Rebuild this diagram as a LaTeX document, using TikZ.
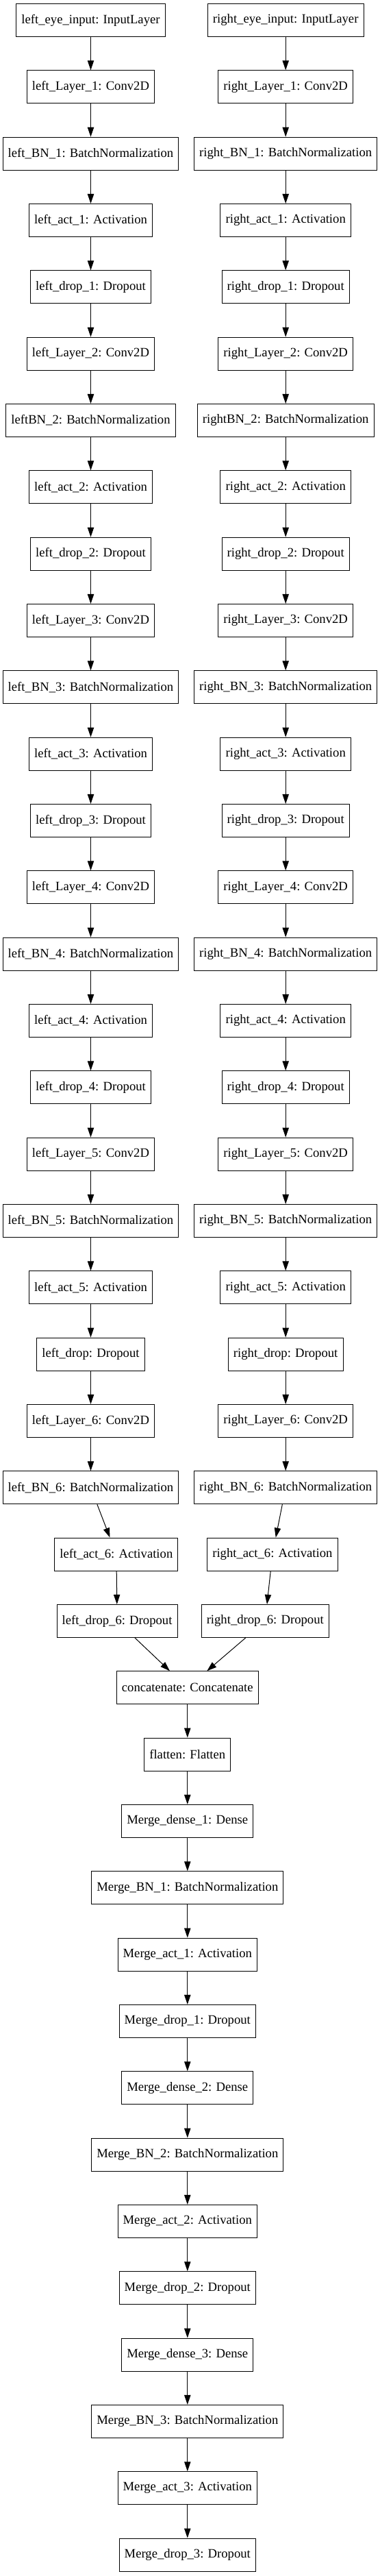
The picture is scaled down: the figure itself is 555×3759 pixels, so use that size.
\documentclass[tikz,border=0pt]{standalone}
\usepackage{fontspec}
\setmainfont{Liberation Serif}
\usetikzlibrary{arrows.meta}
\tikzset{
    layer/.style={draw, line width=0.75pt, minimum height=36pt, inner xsep=5.7pt, inner ysep=0pt,
        font=\fontsize{14pt}{16pt}\selectfont},
    link/.style={-{Triangle[length=10.5pt,width=7pt]}, line width=0.75pt}
}
\begin{document}
\begin{tikzpicture}[x=0.75pt, y=-0.75pt]
    \useasboundingbox (0,0) rectangle (555,3759);
    \def\dy{97.33} % distance between rows
    \def\ytop{29.5} % centre of the first row
    % Two eye branches
    \foreach \s/\x/\side in {l/132.5/left, r/417.2/right} {
        \node[layer] (\s-in) at (\x,\ytop) {\side\_eye\_input: InputLayer};
        \foreach \b in {1,...,6} {
            \pgfmathsetmacro{\yc}{\ytop + (4*\b-3)*\dy}
            \pgfmathsetmacro{\yb}{\ytop + (4*\b-2)*\dy}
            \node[layer] (\s-conv-\b) at (\x,\yc) {\side\_Layer\_\b: Conv2D};
            \ifnum\b=2
                \node[layer] (\s-bn-\b) at (\x,\yb) {\side BN\_\b: BatchNormalization};
            \else
                \node[layer] (\s-bn-\b) at (\x,\yb) {\side\_BN\_\b: BatchNormalization};
            \fi
            \draw[link] (\s-conv-\b) -- (\s-bn-\b);
            \ifnum\b=1
                \draw[link] (\s-in) -- (\s-conv-\b);
            \else
                \pgfmathtruncatemacro{\p}{\b-1}
                \draw[link] (\s-drop-\p) -- (\s-conv-\b);
            \fi
            \ifnum\b<6
                \pgfmathsetmacro{\ya}{\ytop + (4*\b-1)*\dy}
                \pgfmathsetmacro{\yd}{\ytop + (4*\b)*\dy}
                \node[layer] (\s-act-\b) at (\x,\ya) {\side\_act\_\b: Activation};
                \ifnum\b=5
                    \node[layer] (\s-drop-\b) at (\x,\yd) {\side\_drop: Dropout};
                \else
                    \node[layer] (\s-drop-\b) at (\x,\yd) {\side\_drop\_\b: Dropout};
                \fi
                \draw[link] (\s-bn-\b) -- (\s-act-\b);
                \draw[link] (\s-act-\b) -- (\s-drop-\b);
            \fi
        }
    }
    % Last activation and dropout leave the columns
    \node[layer] (l-act-6) at (169.9,{\ytop+23*\dy}) {left\_act\_6: Activation};
    \node[layer] (r-act-6) at (397.9,{\ytop+23*\dy}) {right\_act\_6: Activation};
    \node[layer] (l-drop-6) at (171.1,{\ytop+24*\dy}) {left\_drop\_6: Dropout};
    \node[layer] (r-drop-6) at (387.3,{\ytop+24*\dy}) {right\_drop\_6: Dropout};
    \foreach \s in {l,r} {
        \draw[link] (\s-bn-6) -- (\s-act-6);
        \draw[link] (\s-act-6) -- (\s-drop-6);
    }
    % Merged part
    \def\mx{273.8}
    \node[layer] (concat) at (\mx,{\ytop+25*\dy}) {concatenate: Concatenate};
    \node[layer] (flat) at (\mx,{\ytop+26*\dy}) {flatten: Flatten};
    \draw[link] (l-drop-6) -- (concat);
    \draw[link] (r-drop-6) -- (concat);
    \draw[link] (concat) -- (flat);
    \foreach \j in {1,2,3} {
        \pgfmathsetmacro{\yn}{\ytop + (4*\j+23)*\dy}
        \pgfmathsetmacro{\yb}{\ytop + (4*\j+24)*\dy}
        \pgfmathsetmacro{\ya}{\ytop + (4*\j+25)*\dy}
        \pgfmathsetmacro{\yd}{\ytop + (4*\j+26)*\dy}
        \node[layer] (m-dense-\j) at (\mx,\yn) {Merge\_dense\_\j: Dense};
        \node[layer] (m-bn-\j) at (\mx,\yb) {Merge\_BN\_\j: BatchNormalization};
        \node[layer] (m-act-\j) at (\mx,\ya) {Merge\_act\_\j: Activation};
        \node[layer] (m-drop-\j) at (\mx,\yd) {Merge\_drop\_\j: Dropout};
        \ifnum\j=1
            \draw[link] (flat) -- (m-dense-\j);
        \else
            \pgfmathtruncatemacro{\p}{\j-1}
            \draw[link] (m-drop-\p) -- (m-dense-\j);
        \fi
        \draw[link] (m-dense-\j) -- (m-bn-\j);
        \draw[link] (m-bn-\j) -- (m-act-\j);
        \draw[link] (m-act-\j) -- (m-drop-\j);
    }
\end{tikzpicture}
\end{document}
